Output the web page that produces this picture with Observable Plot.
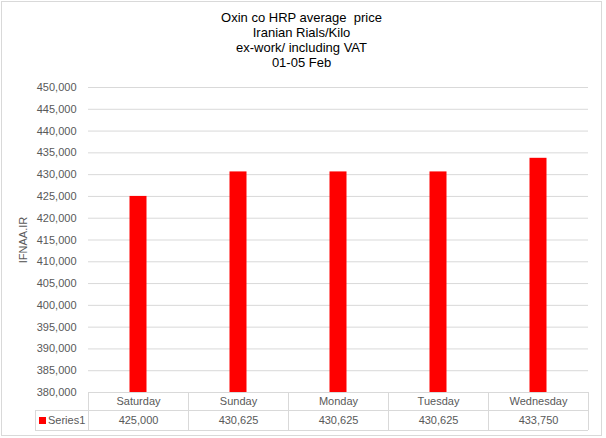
<!DOCTYPE html>
<html><head><meta charset="utf-8">
<script src="https://cdn.jsdelivr.net/npm/d3@7"></script>
<script src="https://cdn.jsdelivr.net/npm/@observablehq/plot@0.6"></script>
<style>
body{margin:0;background:#fff}
#chart{position:relative;width:606px;height:438px}
</style>
</head><body><div id="chart"></div>
<script>
const days = ["Saturday", "Sunday", "Monday", "Tuesday", "Wednesday"];
const prices = [425000, 430625, 430625, 430625, 433750];
const yTicks = d3.range(380000, 450001, 5000);
const titleLines = ["Oxin co HRP average  price", "Iranian Rials/Kilo", "ex-work/ including VAT", "01-05 Feb"];
const seriesName = "Series1";
const yLabel = "IFNAA.IR";

const data = days.map((d, i) => ({day: d, price: prices[i]}));
const fmt = d3.format(",");
const textColor = "#595959";
const lineColor = "#d9d9d9";

const plot = Plot.plot({
  width: 606, height: 438,
  marginLeft: 88, marginRight: 18, marginTop: 87, marginBottom: 46,
  style: {fontFamily: "'Liberation Sans', Arial, sans-serif", fontSize: "11px", color: textColor, background: "#fff", overflow: "visible"},
  x: {domain: days, padding: 0, axis: null},
  y: {domain: [380000, 450000], axis: null},
  marks: [
    Plot.gridY(yTicks, {stroke: lineColor, strokeOpacity: 1}),
    Plot.axisY(yTicks, {tickSize: 0, tickPadding: 12, tickFormat: fmt, label: null, fill: textColor}),
    Plot.barY(data, {x: "day", y1: 380000, y2: "price", fill: "#ff0000", insetLeft: 41.5, insetRight: 41.5}),
    Plot.text(data, {x: "day", y: 380000, dy: 9, text: "day", fill: textColor}),
    Plot.text(data, {x: "day", y: 380000, dy: 28, text: d => fmt(d.price), fill: textColor}),
    Plot.text([titleLines.join("\n")], {frameAnchor: "top", dx: -37, dy: -76, lineAnchor: "top", lineHeight: 15 / 13, fontSize: 13, fill: "#000"}),
    Plot.text([yLabel], {frameAnchor: "left", dx: -65, rotate: -90, textAnchor: "middle", fill: textColor, fontSize: 11})
  ]
});

const x = plot.scale("x"), y = plot.scale("y");
const svg = d3.select(plot);
const g = svg.append("g").attr("stroke", lineColor).attr("fill", "none").attr("shape-rendering", "crispEdges");
const y0 = y.apply(380000);
const rowH1 = 18, rowH2 = 20;
const xR = x.range[1];
const tableLeft = 35;
// horizontal table lines
g.append("line").attr("x1", tableLeft).attr("x2", xR).attr("y1", y0 + rowH1).attr("y2", y0 + rowH1);
g.append("line").attr("x1", tableLeft).attr("x2", xR).attr("y1", y0 + rowH1 + rowH2).attr("y2", y0 + rowH1 + rowH2);
// vertical lines at band edges
days.forEach(d => {
  const xs = x.apply(d);
  g.append("line").attr("x1", xs).attr("x2", xs).attr("y1", y0).attr("y2", y0 + rowH1 + rowH2);
});
g.append("line").attr("x1", xR).attr("x2", xR).attr("y1", y0).attr("y2", y0 + rowH1 + rowH2);
g.append("line").attr("x1", tableLeft).attr("x2", tableLeft).attr("y1", y0 + rowH1).attr("y2", y0 + rowH1 + rowH2);
// legend key
svg.append("rect").attr("x", 39).attr("y", y0 + rowH1 + 7).attr("width", 7).attr("height", 7).attr("fill", "#ff0000");
svg.append("text").attr("x", 48).attr("y", y0 + rowH1 + 10).attr("dy", "0.35em").attr("fill", textColor)
  .attr("text-anchor", "start").attr("font-size", 11).text(seriesName);
// outer border
svg.append("rect").attr("x", 1.5).attr("y", 1.5).attr("width", 600).attr("height", 434)
  .attr("fill", "none").attr("stroke", lineColor);

document.getElementById("chart").appendChild(plot);
</script>
</body></html>
